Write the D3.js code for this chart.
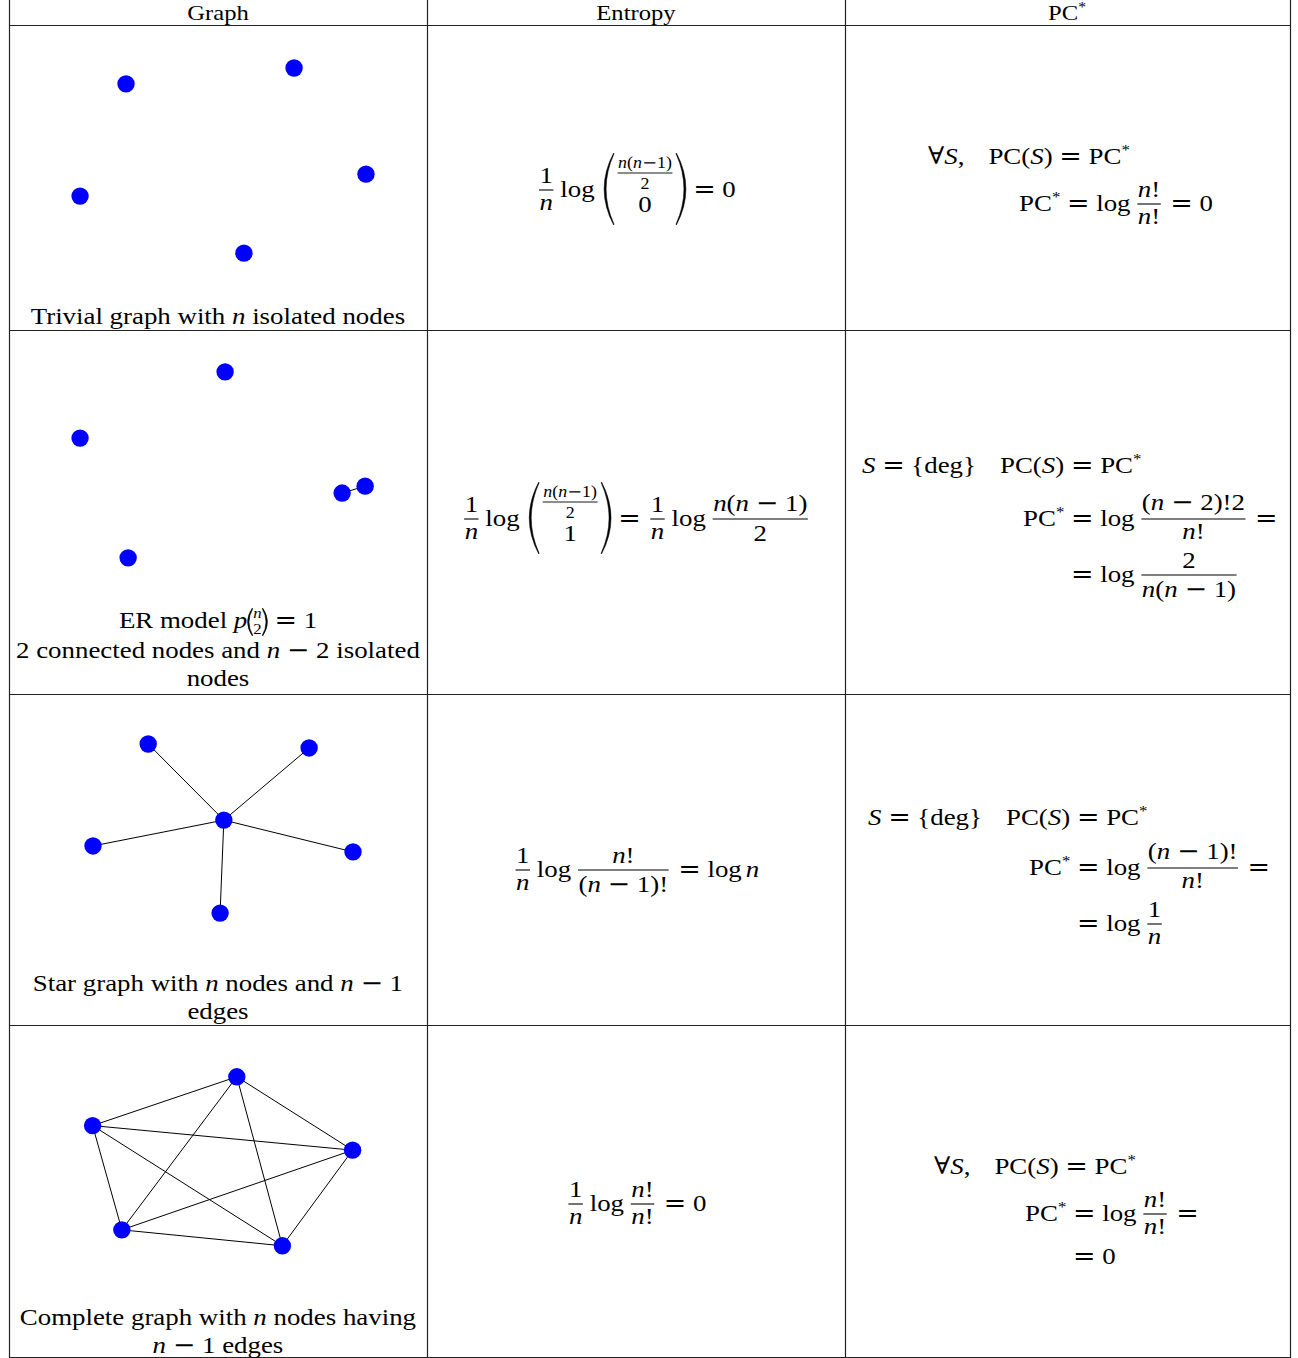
<!DOCTYPE html>
<html>
<head>
<meta charset="utf-8">
<script src="https://cdn.jsdelivr.net/npm/d3@7"></script>
<style>
  html, body { margin: 0; padding: 0; background: #fff; }
  svg text { font-family: "Liberation Serif", "DejaVu Serif", serif; white-space: pre; fill: #000; }
</style>
</head>
<body>
<svg id="chart" width="1298" height="1358"></svg>
<script>
// data

const headers = ["Graph", "Entropy", "PC"];

// captions, |..| = italic, @ = small binomial (n over 2)
const captions = [
  ["Trivial graph with |n| isolated nodes"],
  ["ER model |p|@ = 1", "2 connected nodes and |n| − 2 isolated", "nodes"],
  ["Star graph with |n| nodes and |n| − 1", "edges"],
  ["Complete graph with |n| nodes having", "|n| − 1 edges"]
];

// node layouts, unit square of each graph cell
const trivialNodes = [[0.280, 0.193], [0.682, 0.141], [0.854, 0.489], [0.170, 0.561], [0.562, 0.748]];
const trivialEdges = [];

const erNodes = [[0.517, 0.115], [0.170, 0.297], [0.797, 0.448], [0.852, 0.429], [0.285, 0.626]];
const erEdges = [[2, 3]];

const starNodes = [[0.514, 0.381], [0.333, 0.151], [0.718, 0.163], [0.201, 0.459], [0.823, 0.477], [0.505, 0.662]];
const starEdges = [[0, 1], [0, 2], [0, 3], [0, 4], [0, 5]];

const completeNodes = [[0.545, 0.156], [0.200, 0.303], [0.822, 0.377], [0.270, 0.617], [0.654, 0.665]];
const completeEdges = [[0, 1], [0, 2], [0, 3], [0, 4], [1, 2], [1, 3], [1, 4], [2, 3], [2, 4], [3, 4]];

const graphs = [
  {nodes: trivialNodes, edges: trivialEdges},
  {nodes: erNodes, edges: erEdges},
  {nodes: starNodes, edges: starEdges},
  {nodes: completeNodes, edges: completeEdges}
];

//table frame

const colEdges = [9, 427, 845, 1290];
const rowEdges = [0, 25, 330, 694, 1025, 1357];
const colMid = [218, 636, 1067];

const svg = d3.select('#chart');

svg.append('g')
  .selectAll('line')
  .data(rowEdges.slice(1))
  .join('line')
  .attr('x1', colEdges[0]).attr('x2', colEdges[3] + 1)
  .attr('y1', d => d + 0.5).attr('y2', d => d + 0.5)
  .attr('stroke', '#222').attr('stroke-width', 1.2);

svg.append('g')
  .selectAll('line')
  .data(colEdges)
  .join('line')
  .attr('x1', d => d + 0.5).attr('x2', d => d + 0.5)
  .attr('y1', 0).attr('y2', rowEdges[5] + 1)
  .attr('stroke', '#222').attr('stroke-width', 1.2);

//graphs

graphs.forEach((gr, r) => {
  const x = d3.scaleLinear().domain([0, 1]).range([colEdges[0], colEdges[1]]);
  const y = d3.scaleLinear().domain([0, 1]).range([rowEdges[r + 1], rowEdges[r + 2]]);
  const cell = svg.append('g');
  cell.selectAll('line')
    .data(gr.edges)
    .join('line')
    .attr('x1', d => x(gr.nodes[d[0]][0]))
    .attr('y1', d => y(gr.nodes[d[0]][1]))
    .attr('x2', d => x(gr.nodes[d[1]][0]))
    .attr('y2', d => y(gr.nodes[d[1]][1]))
    .attr('stroke', '#000')
    .attr('stroke-width', 1);
  cell.selectAll('circle')
    .data(gr.nodes)
    .join('circle')
    .attr('cx', d => x(d[0]))
    .attr('cy', d => y(d[1]))
    .attr('r', 8.7)
    .attr('fill', '#0000ff');
});

//tiny math layout: boxes with width + draw(g, x, baseline)

const FS = 24, SX = 1.12, THICK = 6.7, THIN = 4, QUAD = 24;
const meas = svg.append('text').attr('x', -2000).attr('y', -2000);

// [text, italic, operator]; = and − taken from DejaVu, closer to TeX widths
function segs(str) {
  const out = [];
  str.split('|').forEach((s, i) => {
    s.split(/([=−])/).forEach(p => { if (p) out.push([p, i % 2 === 1, /^[=−]$/.test(p)]); });
  });
  return out;
}

function fillSpans(t, sg) {
  sg.forEach(d => t.append('tspan')
    .attr('font-style', d[1] && !d[2] ? 'italic' : 'normal')
    .style('font-family', d[2] ? '"DejaVu Serif"' : null)
    .text(d[0]));
}

function textWidth(sg, fs) {
  meas.selectAll('tspan').remove();
  meas.attr('font-size', fs);
  fillSpans(meas, sg);
  return meas.node().getComputedTextLength() * SX;
}

function txt(str, fs = FS, dy = 0) {
  const sg = segs(str);
  const w = textWidth(sg, fs);
  return {w, draw(g, x, y) {
    const t = g.append('text')
      .attr('transform', `translate(${x},${y + dy}) scale(${SX},1)`)
      .attr('font-size', fs);
    fillSpans(t, sg);
  }};
}

const sp = w => ({w, draw() {}});
const MARK = {w: 0, isMark: true, draw() {}};
const sup = () => txt('*', 15, -9);
const eq = () => [sp(THICK), txt('='), sp(THICK)];
const markEq = () => [sp(THICK), MARK, txt('='), sp(THICK)];

function hbox(items) {
  let acc = 0, mark = null;
  items.forEach(d => { if (d.isMark) mark = acc; acc += d.w; });
  return {w: acc, mark, draw(g, x, y) {
    let cx = x;
    items.forEach(d => { d.draw(g, cx, y); cx += d.w; });
  }};
}

function frac(num, den, o = {}) {
  const fs = o.fs || FS;
  const n = typeof num === 'string' ? txt(num, fs) : num;
  const d = typeof den === 'string' ? txt(den, fs) : den;
  const nd = o.nd ?? 2.8;
  const inner = Math.max(n.w, d.w) + 1;
  const axis = o.axis ?? 7, ng = o.ng ?? 7.5, dg = o.dg ?? 20;
  return {w: inner + 2 * nd, draw(g, x, y) {
    const bar = y - axis;
    g.append('line')
      .attr('x1', x + nd).attr('x2', x + nd + inner)
      .attr('y1', bar).attr('y2', bar)
      .attr('stroke', '#000').attr('stroke-width', o.sw ?? 1.1);
    n.draw(g, x + nd + (inner - n.w) / 2, bar - ng);
    d.draw(g, x + nd + (inner - d.w) / 2, bar + dg);
  }};
}

function parenPath(x, top, bot, w, right) {
  const mid = (top + bot) / 2;
  const k = Math.min(1.8, (bot - top) / 22);
  if (!right) {
    return `M${x + w},${top} Q${x - w * 0.9},${mid} ${x + w},${bot} ` +
      `L${x + w + 0.4},${bot - 0.8} Q${x - w * 0.9 + 2 * k},${mid} ${x + w + 0.4},${top + 0.8} Z`;
  }
  return `M${x},${top} Q${x + w * 1.9},${mid} ${x},${bot} ` +
    `L${x - 0.4},${bot - 0.8} Q${x + w * 1.9 - 2 * k},${mid} ${x - 0.4},${top + 0.8} Z`;
}

function binom(top, bot, o) {
  const inner = Math.max(top.w, bot.w);
  const w = o.pw * 2 + o.gap * 2 + inner + (o.lead || 0);
  return {w, draw(g, x, y) {
    const ax = y - (o.axis ?? 7);
    const x0 = x + (o.lead || 0);
    g.append('path').attr('d', parenPath(x0, ax - o.up, ax + o.down, o.pw, false))
      .attr('fill', '#000').attr('stroke', '#000').attr('stroke-width', 0.5);
    g.append('path').attr('d', parenPath(x + w - o.pw, ax - o.up, ax + o.down, o.pw, true))
      .attr('fill', '#000').attr('stroke', '#000').attr('stroke-width', 0.5);
    top.draw(g, x0 + o.pw + o.gap + (inner - top.w) / 2, ax + o.t);
    bot.draw(g, x0 + o.pw + o.gap + (inner - bot.w) / 2, ax + o.b);
  }};
}

const smallFrac = () => frac('|n|(|n|−1)', '2', {fs: 16, axis: 0, ng: 5, dg: 16, nd: 0, sw: 0.9});
const bigBinom = (top, bot) => binom(top, bot, {pw: 10, gap: 4, up: 37, down: 35, t: -17, b: 22, lead: 5});
const smallBinom = () => binom(txt('|n|', 15), txt('2', 15), {pw: 5, gap: 1, up: 14, down: 14, t: -4, b: 12, axis: 6});
const oneOverN = () => frac('1', '|n|');

// returns absolute x of the alignment mark
function place(items, x, y, anchor) {
  const b = hbox(items);
  const x0 = anchor === 'middle' ? x - b.w / 2 : anchor === 'mark' ? x - b.mark : x;
  b.draw(svg, x0, y);
  return b.mark === null ? null : x0 + b.mark;
}

//header (kept inside the picture)

svg.selectAll('.head')
  .data(headers)
  .join('text')
  .attr('class', 'head')
  .attr('transform', (d, i) => `translate(${colMid[i]},20) scale(${SX},1)`)
  .attr('text-anchor', 'middle')
  .attr('font-size', 22)
  .each(function(d, i) {
    const t = d3.select(this);
    t.append('tspan').text(d);
    if (i === 2) t.append('tspan').attr('font-size', 14).attr('dy', -8).text('*');
  });

//captions

const captionBase = [[324], [628, 658, 686], [991, 1019], [1325, 1353]];
captions.forEach((lines, r) => {
  lines.forEach((line, i) => {
    const parts = line.split('@');
    const items = [];
    parts.forEach((p, j) => {
      if (j > 0) items.push(smallBinom());
      if (p) items.push(txt(p));
    });
    place(items, colMid[0], captionBase[r][i], 'middle');
  });
});

//entropy column

place([oneOverN(), sp(THIN), txt('log'), sp(THIN), bigBinom(smallFrac(), txt('0')), ...eq(), txt('0')],
  colMid[1], 197, 'middle');

place([oneOverN(), sp(THIN), txt('log'), sp(THIN), bigBinom(smallFrac(), txt('1')), ...eq(),
  oneOverN(), sp(THIN), txt('log'), sp(THIN), frac('|n|(|n| − 1)', '2', {ng: 8, dg: 22})],
  colMid[1], 526, 'middle');

place([oneOverN(), sp(THIN), txt('log'), sp(THIN), frac('|n|!', '(|n| − 1)!', {dg: 22}), ...eq(),
  txt('log'), sp(THIN), txt('|n|')],
  colMid[1], 877, 'middle');

place([oneOverN(), sp(THIN), txt('log'), sp(THIN), frac('|n|!', '|n|!'), ...eq(), txt('0')],
  colMid[1], 1211, 'middle');

//PC* column

const forallLine = () => [txt('∀|S|,'), sp(QUAD), txt('PC(|S|)'), ...eq(), txt('PC'), sup()];
const degLine = () => [txt('|S|'), ...eq(), txt('{deg}'), sp(QUAD), txt('PC(|S|)'), ...eq(), txt('PC'), sup()];
const pcStar = () => [txt('PC'), sup()];
let m;

// row 1
place(forallLine(), 928, 164, 'start');
place([...pcStar(), ...markEq(), txt('log'), sp(THIN), frac('|n|!', '|n|!'), ...eq(), txt('0')], 1019, 211, 'start');

// row 2
place(degLine(), 862, 473, 'start');
m = place([...pcStar(), ...markEq(), txt('log'), sp(THIN), frac('(|n| − 2)!2', '|n|!', {ng: 9}), ...eq()], 1023, 526, 'start');
place([MARK, txt('='), sp(THICK), txt('log'), sp(THIN), frac('2', '|n|(|n| − 1)', {dg: 22})], m, 582, 'mark');

// row 3
place(degLine(), 868, 825, 'start');
m = place([...pcStar(), ...markEq(), txt('log'), sp(THIN), frac('(|n| − 1)!', '|n|!', {ng: 9}), ...eq()], 1029, 875, 'start');
place([MARK, txt('='), sp(THICK), txt('log'), sp(THIN), frac('1', '|n|')], m, 931, 'mark');

// row 4
place(forallLine(), 934, 1174, 'start');
m = place([...pcStar(), ...markEq(), txt('log'), sp(THIN), frac('|n|!', '|n|!'), ...eq()], 1025, 1221, 'start');
place([MARK, txt('='), sp(THICK), txt('0')], m, 1264, 'mark');

meas.remove();
</script>
</body>
</html>
